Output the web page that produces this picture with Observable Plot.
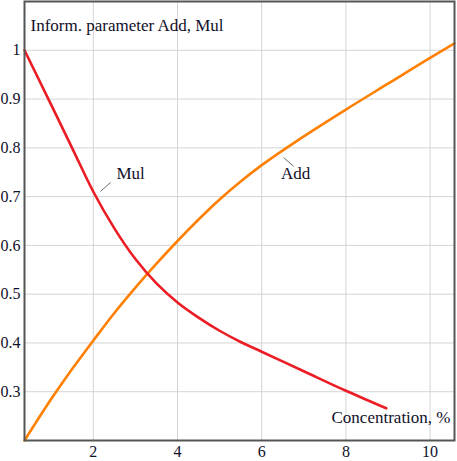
<!DOCTYPE html>
<html>
<head>
<meta charset="utf-8">
<script src="https://cdn.jsdelivr.net/npm/d3@7"></script>
<script src="https://cdn.jsdelivr.net/npm/@observablehq/plot@0.6"></script>
<style>
  html, body { margin: 0; padding: 0; background: #fff; }
  svg { display: block; }
</style>
</head>
<body>
<div id="chart"></div>
<script>
// Data
const mulX = [0.365, 1.0, 1.5, 2.0, 2.5, 3.0, 3.5, 4.0, 4.5, 5.0, 5.5, 6.0, 7.0, 8.0, 8.96];
const mulY = [1.0, 0.888, 0.799, 0.71, 0.635, 0.572, 0.522, 0.483, 0.452, 0.425, 0.402, 0.382, 0.342, 0.302, 0.266];
const addX = [0.365, 1.0, 1.5, 2.0, 2.5, 3.0, 3.5, 4.0, 4.5, 5.0, 5.5, 6.0, 7.0, 8.0, 9.0, 10.0, 10.58];
const addY = [0.2, 0.285, 0.347, 0.405, 0.4615, 0.5135, 0.5625, 0.609, 0.653, 0.694, 0.731, 0.7645, 0.8235, 0.8785, 0.9315, 0.9845, 1.014];
const xTicks = [2, 4, 6, 8, 10];
const yTicks = [0.3, 0.4, 0.5, 0.6, 0.7, 0.8, 0.9, 1.0];
const seriesLabels = ["Mul", "Add"];
const labelX = [2.55, 6.46];
const labelY = [0.747, 0.747];
const leaderX1 = [2.17, 6.52];
const leaderY1 = [0.7105, 0.78];
const leaderX2 = [2.41, 6.76];
const leaderY2 = [0.729, 0.762];
const yTitle = "Inform. parameter Add, Mul";
const xTitle = "Concentration, %";

const mul = mulX.map((x, i) => ({x, y: mulY[i]}));
const add = addX.map((x, i) => ({x, y: addY[i]}));
const labels = seriesLabels.map((t, i) => ({t, x: labelX[i], y: labelY[i]}));
const leaders = seriesLabels.map((t, i) => ({x1: leaderX1[i], y1: leaderY1[i], x2: leaderX2[i], y2: leaderY2[i]}));

const font = "Times New Roman, Liberation Serif, serif";
const txt = "#10102a";
const fs = 16;
const fsTitle = 17;

const chart = Plot.plot({
  width: 457,
  height: 461,
  marginLeft: 24,
  marginRight: 3,
  marginTop: 1,
  marginBottom: 21,
  style: {fontFamily: font, fontSize: "16px", color: txt, background: "#fff"},
  x: {domain: [0.365, 10.58], label: null},
  y: {domain: [0.2, 1.1], label: null},
  marks: [
    Plot.gridX(xTicks, {stroke: "#d4d4d4", strokeOpacity: 1, strokeWidth: 1}),
    Plot.gridY(yTicks, {stroke: "#d4d4d4", strokeOpacity: 1, strokeWidth: 1}),
    Plot.axisX(xTicks, {tickSize: 0, tickPadding: 5, fontSize: fs, fill: txt, label: null, tickFormat: d => String(d)}),
    Plot.axisY(yTicks, {tickSize: 0, tickPadding: 4, fontSize: fs, fill: txt, label: null, tickFormat: d => String(+d.toFixed(1))}),
    Plot.line(add, {x: "x", y: "y", stroke: "#ff8000", strokeWidth: 2.6, curve: "monotone-x"}),
    Plot.line(mul, {x: "x", y: "y", stroke: "#ec1c24", strokeWidth: 2.6, curve: "monotone-x"}),
    Plot.link(leaders, {x1: "x1", y1: "y1", x2: "x2", y2: "y2", stroke: "#444", strokeWidth: 0.8}),
    Plot.text(labels, {x: "x", y: "y", text: "t", textAnchor: "start", fontSize: fsTitle, fill: txt}),
    Plot.text([yTitle], {frameAnchor: "top-left", dx: 6, dy: 17, textAnchor: "start", fontSize: fsTitle, fill: txt}),
    Plot.text([xTitle], {frameAnchor: "bottom-right", dx: -4, dy: -18, textAnchor: "end", fontSize: fsTitle, fill: txt}),
    Plot.frame({stroke: "#555", strokeWidth: 2})
  ]
});
chart.setAttribute("font-family", font);
chart.querySelectorAll("g, text").forEach(el => {
  if (el.hasAttribute("font-family")) el.setAttribute("font-family", font);
});
chart.querySelectorAll("text").forEach(el => {
  el.setAttribute("font-family", font);
});
document.getElementById("chart").appendChild(chart);
</script>
</body>
</html>
